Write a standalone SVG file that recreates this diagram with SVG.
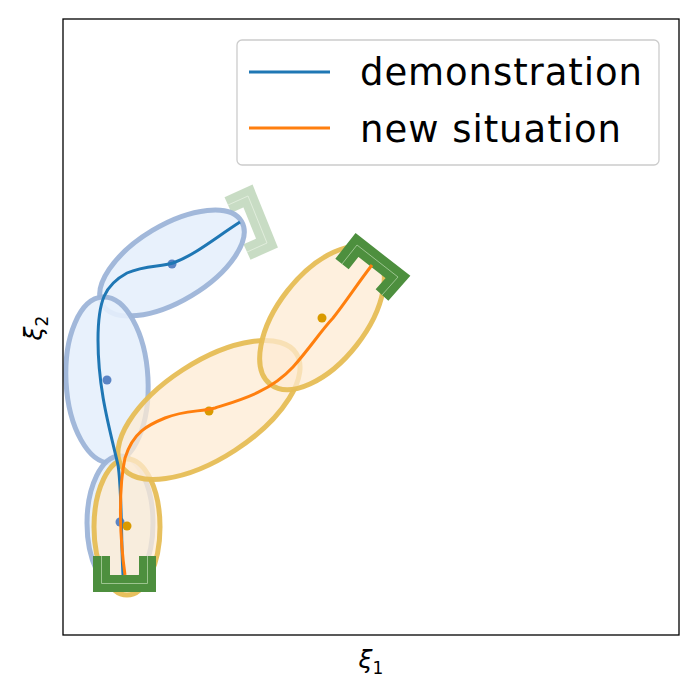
<svg xmlns="http://www.w3.org/2000/svg" width="699" height="699" viewBox="0 0 699 699">
<style>
.be{fill:#e6effc;fill-opacity:0.9;stroke:#9db4d8;stroke-width:5;stroke-opacity:0.95}
.oe{fill:#fdebd3;fill-opacity:0.75;stroke:#e6bd55;stroke-width:5;stroke-opacity:0.95}
.br{fill:none;stroke:#4d8f3e;stroke-width:17;stroke-linejoin:miter}
.bi{fill:none;stroke:#9cc48f;stroke-width:1}
text{font-family:"DejaVu Sans",sans-serif;fill:#000}
</style>
<rect width="699" height="699" fill="#fff"/>
<g id="bracket-faded" opacity="0.3">
<path class="br" d="M228,205 L248,196 L267,243 L247,252" stroke-width="14"/>
<path class="bi" d="M228,205 L248,196 L267,243 L247,252" stroke="#fff"/>
</g>
<g id="ellipses">
<ellipse class="be" cx="172" cy="263" rx="81" ry="38" transform="rotate(-31 172 263)"/>
<ellipse class="be" cx="107" cy="380" rx="41" ry="83" transform="rotate(-3 107 380)"/>
<ellipse class="be" cx="120" cy="523" rx="33" ry="67"/>
<ellipse class="oe" cx="127" cy="527" rx="33" ry="68"/>
<ellipse class="oe" cx="209" cy="410" rx="104" ry="48" transform="rotate(-33 209 410)"/>
<ellipse class="oe" cx="322" cy="318" rx="84" ry="44" transform="rotate(-52 322 318)"/>
</g>
<g id="centers">
<circle cx="172" cy="264" r="4.5" fill="#5b84c4"/>
<circle cx="107" cy="380" r="4.5" fill="#5b84c4"/>
<circle cx="120" cy="522" r="4.5" fill="#5b84c4"/>
<circle cx="127" cy="526" r="4.5" fill="#d99a00"/>
<circle cx="209" cy="411" r="4.5" fill="#d99a00"/>
<circle cx="322" cy="318" r="4.5" fill="#d99a00"/>
</g>
<g id="brackets">
<path class="br" d="M101.5,556 V583.5 H147.5 V556"/>
<path class="bi" d="M101.5,556 V583.5 H147.5 V556"/>
<path class="br" d="M342,264 L357,245 L398,277 L382,295"/>
<path class="bi" d="M342,264 L357,245 L398,277 L382,295"/>
</g>
<g id="trajectories" fill="none" stroke-width="3">
<path stroke="#1f77b4" d="M123,575 C121,540 122,490 118,465 C110,430 98,390 98,340 C98,300 105,285 127,273 C145,265 160,267 173,263 C195,255 215,238 240,222"/>
<path stroke="#ff7f0e" d="M125,575 C120,540 118,490 125,458 C133,432 148,425 165,418 C185,410 200,412 215,408 C240,400 270,392 293,367 C310,348 320,332 333,318 C345,303 358,283 372,265"/>
</g>
<g id="axes">
<rect x="63" y="19" width="616" height="616" fill="none" stroke="#000" stroke-width="1.3"/>
<text x="371" y="668" font-size="25" font-style="italic" text-anchor="middle">ξ<tspan font-size="17" dy="6" font-style="normal">1</tspan></text>
<text transform="translate(42,328) rotate(-90)" font-size="25" font-style="italic" text-anchor="middle">ξ<tspan font-size="17" dy="6" font-style="normal">2</tspan></text>
</g>
<g id="legend">
<rect x="237" y="40" width="422" height="125" rx="5" fill="#fff" fill-opacity="0.8" stroke="#ccc" stroke-width="1.3"/>
<line x1="249" y1="72" x2="330" y2="72" stroke="#1f77b4" stroke-width="3"/>
<line x1="249" y1="128" x2="330" y2="128" stroke="#ff7f0e" stroke-width="3"/>
<text x="360" y="85" font-size="37" textLength="282">demonstration</text>
<text x="360" y="142" font-size="37" textLength="261">new situation</text>
</g>
</svg>
